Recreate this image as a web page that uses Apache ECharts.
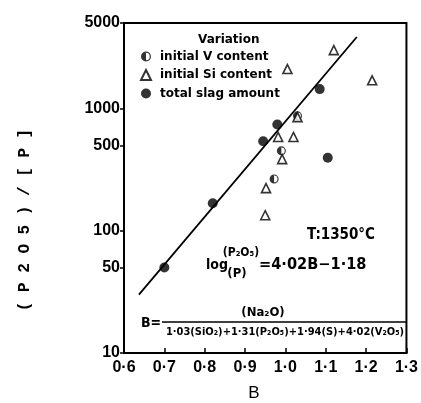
<!DOCTYPE html>
<html>
<head>
<meta charset="utf-8">
<script src="https://cdn.jsdelivr.net/npm/echarts@6/dist/echarts.min.js"></script>
<style>
html, body { margin: 0; padding: 0; background: #fff; }
#chart { width: 421px; height: 403px; }
</style>
</head>
<body>
<div id="chart"></div>
<script>
// ticks
var yTicks = [10, 50, 100, 500, 1000, 5000];

// data: [B, (P2O5)/[P]]
var vContent = [[0.99, 450], [0.972, 265], [1.03, 870]];
var siContent = [[1.12, 3000], [1.005, 2100], [1.215, 1700], [0.982, 585], [1.02, 585],
                 [0.992, 385], [0.952, 223], [0.95, 134], [1.03, 850]];
var slagAmount = [[0.70, 50], [0.82, 168], [0.945, 540], [0.98, 740], [1.085, 1440], [1.105, 395]];
var fitLine = [[0.637, 30], [1.177, 3840]];

// circle with left half filled
var halfCircle = 'path://M10,0 A10,10 0 1,1 10,20 A10,10 0 1,1 10,0 Z ' +
    'M10,2.5 A7.5,7.5 0 1,0 10,17.5 A7.5,7.5 0 1,0 10,2.5 Z M10,20 A10,10 0 0,1 10,0 Z';

var chart = echarts.init(document.getElementById('chart'));

var labelFont = { color: '#000', fontFamily: 'Liberation Sans', fontWeight: 'bold', fontSize: 16 };
var txtFont = 'DejaVu Sans Condensed';

var option = {
    animation: false,
    backgroundColor: '#fff',
    grid: {
        left: 124, right: 13, top: 23, bottom: 50,
        show: true, borderColor: '#000', borderWidth: 2
    },
    legend: {
        orient: 'vertical',
        left: 140, top: 50,
        padding: 0,
        itemWidth: 10, itemHeight: 10, itemGap: 5.5,
        selectedMode: false,
        data: ['initial V content', 'initial Si content', 'total slag amount'],
        textStyle: { color: '#000', fontFamily: 'DejaVu Sans', fontWeight: 'bold', fontSize: 12, lineHeight: 13, padding: [0, 0, 0, 4] }
    },
    xAxis: {
        type: 'value',
        min: 0.6, max: 1.3, interval: 0.1,
        splitLine: { show: false },
        axisLine: { lineStyle: { color: '#000', width: 2 } },
        axisTick: { inside: true, length: 5, lineStyle: { color: '#000', width: 1.5 } },
        axisLabel: Object.assign({
            margin: 7,
            formatter: function (v) { return v.toFixed(1).replace('.', '\u00b7'); }
        }, labelFont)
    },
    yAxis: {
        type: 'log',
        logBase: 10,
        min: 10, max: 5000,
        splitLine: { show: false },
        axisLine: { lineStyle: { color: '#000', width: 2 } },
        axisTick: { inside: false, length: 4, customValues: yTicks, lineStyle: { color: '#000', width: 1.5 } },
        axisLabel: Object.assign({
            margin: 4, customValues: yTicks,
            formatter: function (v) { return String(Math.round(v)); }
        }, labelFont)
    },
    graphic: [
        { type: 'text', x: 198, y: 40, style: { text: 'Variation', font: 'bold 12px DejaVu Sans', fill: '#000', verticalAlign: 'middle' } },
        { type: 'text', x: 307, y: 235, style: { text: 'T:1350\u00b0C', font: 'bold 15px ' + txtFont, fill: '#000', verticalAlign: 'middle' } },
        { type: 'text', x: 206, y: 265, style: { text: 'log', font: 'bold 14px ' + txtFont, fill: '#000', verticalAlign: 'middle' } },
        { type: 'text', x: 241, y: 253, style: { text: '(P\u2082O\u2085)', font: 'bold 12px ' + txtFont, fill: '#000', align: 'center', verticalAlign: 'middle' } },
        { type: 'text', x: 237, y: 274, style: { text: '(P)', font: 'bold 13px ' + txtFont, fill: '#000', align: 'center', verticalAlign: 'middle' } },
        { type: 'text', x: 259, y: 265, scaleX: 1.08, style: { text: '=4\u00b702B\u22121\u00b718', font: 'bold 15px ' + txtFont, fill: '#000', verticalAlign: 'middle' } },
        { type: 'text', x: 141, y: 323, style: { text: 'B=', font: 'bold 14px ' + txtFont, fill: '#000', verticalAlign: 'middle' } },
        { type: 'line', shape: { x1: 162, y1: 322, x2: 407, y2: 322 }, style: { stroke: '#000', lineWidth: 1.5 } },
        { type: 'text', x: 263, y: 313, style: { text: '(Na\u2082O)', font: 'bold 13px ' + txtFont, fill: '#000', align: 'center', verticalAlign: 'middle' } },
        { type: 'text', x: 285, y: 332, style: { text: '1\u00b703(SiO\u2082)+1\u00b731(P\u2082O\u2085)+1\u00b794(S)+4\u00b702(V\u2082O\u2085)', font: 'bold 11px ' + txtFont, fill: '#000', align: 'center', verticalAlign: 'middle' } },
        { type: 'text', x: 254, y: 393, style: { text: 'B', font: '17px Liberation Sans', fill: '#000', align: 'center', verticalAlign: 'middle' } },
        { type: 'text', x: 25, y: 220, rotation: Math.PI / 2,
          style: { text: '( P 2 O 5 ) / [ P ]', font: 'bold 16px Liberation Mono', fill: '#000', align: 'center', verticalAlign: 'middle' } }
    ],
    series: [
        {
            name: 'initial V content', type: 'scatter', data: vContent,
            symbol: halfCircle, symbolSize: 9, z: 3,
            itemStyle: { color: '#000' }
        },
        {
            name: 'initial Si content', type: 'scatter', data: siContent,
            symbol: 'triangle', symbolSize: 9, z: 4,
            itemStyle: { color: '#fff', borderColor: '#000', borderWidth: 1.6 }
        },
        {
            name: 'total slag amount', type: 'scatter', data: slagAmount,
            symbol: 'circle', symbolSize: 10, z: 3,
            itemStyle: { color: '#000' }
        },
        {
            name: 'fit', type: 'line', data: fitLine,
            symbol: 'none', z: 2,
            lineStyle: { color: '#000', width: 1.8 }
        }
    ]
};

chart.setOption(option);
</script>
</body>
</html>
